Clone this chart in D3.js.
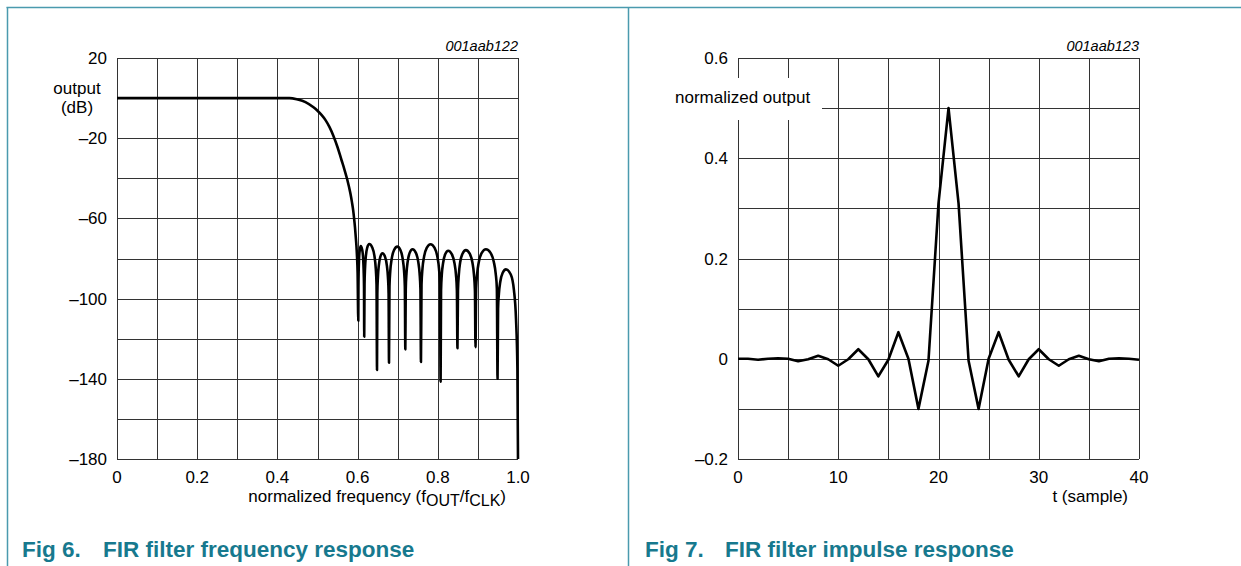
<!DOCTYPE html>
<html>
<head>
<meta charset="utf-8">
<script src="https://cdn.jsdelivr.net/npm/d3@7"></script>
<style>
    body { margin: 0; background: #fff; }
    svg { display: block; font-family: "Liberation Sans", Arial, sans-serif; }
</style>
</head>
<body>
<svg id="page" width="1241" height="566"></svg>
<script>
// ---- data ----
const freqGrid = [0, 0.1, 0.2, 0.3, 0.4, 0.5, 0.6, 0.7, 0.8, 0.9, 1.0];
const freqTicks = [0, 0.2, 0.4, 0.6, 0.8, 1.0];
const dbGrid = [20, 0, -20, -40, -60, -80, -100, -120, -140, -160, -180];
const dbTicks = [20, -20, -60, -100, -140, -180];

// [normalized frequency, output dB]
const freqResponse = [
    [0, 0], [0.43, 0], [0.45, -0.7], [0.47, -2], [0.49, -4.6], [0.5, -6.3],
    [0.51, -8.4], [0.52, -11], [0.53, -14.5], [0.54, -19], [0.55, -24.5],
    [0.56, -31], [0.567, -35.5], [0.574, -40.5], [0.582, -47.5], [0.586, -52],
    [0.589, -56], [0.591, -59.5], [0.5935, -64.5], [0.5955, -69.5], [0.597, -73.5],
    [0.5985, -79], [0.6, -87], [0.6017, -111],
    [0.6021, -94], [0.6027, -86], [0.6037, -80], [0.6055, -75.6], [0.608, -73.8],
    [0.6114, -75.6], [0.6138, -80], [0.6151, -86], [0.616, -94], [0.6165, -119],
    [0.6173, -93], [0.6185, -85], [0.6205, -79], [0.624, -74.6], [0.629, -72.8],
    [0.6368, -74.6], [0.6422, -79], [0.6453, -85], [0.6472, -93], [0.6484, -135.6],
    [0.6492, -97.4], [0.6506, -89.4], [0.6528, -83.7], [0.6566, -79.2], [0.662, -77.4],
    [0.6685, -79.2], [0.6731, -83.7], [0.6757, -89.4], [0.6773, -97.4], [0.6783, -132],
    [0.6795, -94], [0.6816, -86], [0.6849, -80.4], [0.6907, -75.9], [0.699, -74.1],
    [0.707, -75.9], [0.7126, -80.4], [0.7158, -86], [0.7178, -94], [0.719, -125.3],
    [0.7201, -95.4], [0.7219, -87.4], [0.7248, -81.7], [0.7298, -77.2], [0.737, -75.4],
    [0.7454, -77.2], [0.7513, -81.7], [0.7546, -87.4], [0.7567, -95.4], [0.758, -131.6],
    [0.7594, -93], [0.7618, -85], [0.7657, -79.2], [0.7724, -74.7], [0.782, -72.9],
    [0.792, -74.7], [0.799, -79.2], [0.803, -85], [0.8055, -93], [0.807, -141.4],
    [0.8081, -96], [0.81, -88], [0.8131, -82.4], [0.8184, -77.9], [0.826, -76.1],
    [0.8352, -77.9], [0.8416, -82.4], [0.8453, -88], [0.8476, -96], [0.849, -124.8],
    [0.8503, -96], [0.8524, -88], [0.8557, -82], [0.8616, -77.6], [0.87, -75.8],
    [0.8796, -77.6], [0.8863, -82], [0.8902, -88], [0.8926, -96], [0.894, -124.3],
    [0.8956, -95], [0.8982, -87.5], [0.9023, -81.7], [0.9096, -77.2], [0.92, -75.4],
    [0.9316, -77.2], [0.9397, -81.7], [0.9444, -87.5], [0.9473, -95], [0.949, -140],
    [0.9503, -105], [0.9524, -97.5], [0.9557, -91.7], [0.9616, -87.2], [0.97, -85.4],
    [0.982, -88], [0.99, -96], [0.995, -110], [0.9985, -135], [1.0, -180]
];

const sampleGrid = [0, 5, 10, 15, 20, 25, 30, 35, 40];
const sampleTicks = [0, 10, 20, 30, 40];
const outGrid = [0.6, 0.5, 0.4, 0.3, 0.2, 0.1, 0, -0.1, -0.2];
const outTicks = [0.6, 0.4, 0.2, 0, -0.2];

// normalized output for t = 0 .. 40
const impulse = [
    0, 0, -0.002, 0, 0.001, 0, -0.005, -0.001, 0.006, -0.001,
    -0.014, -0.001, 0.019, -0.001, -0.035, -0.002, 0.053, 0, -0.1, -0.004,
    0.31, 0.5, 0.31, -0.004, -0.1, 0, 0.053, -0.002, -0.035, -0.001,
    0.019, -0.001, -0.014, -0.001, 0.006, -0.001, -0.005, 0, 0.001, 0,
    -0.002
];

const cfg = {
    font: 17,
    gridColor: "#333",
    frameColor: "#4a9aae",
    titleColor: "#17798e",
    lineWidth: 2.6,
};

const svg = d3.select("#page");

function dash(v) {
    // datasheet style minus sign
    return String(v).replace("-", "\u2013");
}

function drawFrame() {
    var g = svg.append("g")
        .attr("stroke", cfg.frameColor)
        .attr("stroke-width", 1.5)
        .attr("fill", "none");
    g.append("line").attr("x1", 6.5).attr("x2", 1241).attr("y1", 7.5).attr("y2", 7.5);
    g.append("line").attr("x1", 7.5).attr("x2", 7.5).attr("y1", 7).attr("y2", 566);
    g.append("line").attr("x1", 628.5).attr("x2", 628.5).attr("y1", 7).attr("y2", 566);
}

function drawGrid(g, x, y, xs, ys) {
    var [x0, x1] = x.range();
    var [y0, y1] = y.range();
    g.append("g")
        .selectAll("line")
        .data(xs)
        .join("line")
        .attr("x1", d => Math.round(x(d)) + 0.5)
        .attr("x2", d => Math.round(x(d)) + 0.5)
        .attr("y1", y1)
        .attr("y2", y0)
        .attr("stroke", cfg.gridColor)
        .attr("stroke-width", 1);
    g.append("g")
        .selectAll("line")
        .data(ys)
        .join("line")
        .attr("x1", x0)
        .attr("x2", x1)
        .attr("y1", d => Math.round(y(d)) + 0.5)
        .attr("y2", d => Math.round(y(d)) + 0.5)
        .attr("stroke", cfg.gridColor)
        .attr("stroke-width", 1);
}

function drawTickLabels(g, x, y, xt, yt, xfmt, yfmt) {
    var [x0] = x.range();
    var [y0] = y.range();
    g.append("g")
        .selectAll("text")
        .data(yt)
        .join("text")
        .attr("x", x0 - 10)
        .attr("y", d => y(d) + 6)
        .attr("text-anchor", "end")
        .attr("font-size", cfg.font)
        .text(yfmt);
    g.append("g")
        .selectAll("text")
        .data(xt)
        .join("text")
        .attr("x", d => x(d))
        .attr("y", y0 + 24)
        .attr("text-anchor", "middle")
        .attr("font-size", cfg.font)
        .text(xfmt);
}

function drawFreqChart() {
    var x = d3.scaleLinear().domain([0, 1]).range([117, 518]);
    var y = d3.scaleLinear().domain([-180, 20]).range([459, 58]);
    var g = svg.append("g");

    drawGrid(g, x, y, freqGrid, dbGrid);
    drawTickLabels(g, x, y, freqTicks, dbTicks,
        d => (d === 0 ? "0" : d.toFixed(1)),
        d => dash(d));

    // y title
    g.append("text").attr("x", 77).attr("y", 94)
        .attr("text-anchor", "middle").attr("font-size", cfg.font).text("output");
    g.append("text").attr("x", 77).attr("y", 113)
        .attr("text-anchor", "middle").attr("font-size", cfg.font).text("(dB)");

    // x title with subscripts
    var t = g.append("text").attr("x", 506).attr("y", 502)
        .attr("text-anchor", "end").attr("font-size", cfg.font);
    t.append("tspan").text("normalized frequency (f");
    t.append("tspan").attr("dy", 4).attr("font-size", 16).text("OUT");
    t.append("tspan").attr("dy", -4).text("/f");
    t.append("tspan").attr("dy", 4).attr("font-size", 16).text("CLK");
    t.append("tspan").attr("dy", -4).text(")");

    g.append("text").attr("x", 518).attr("y", 51)
        .attr("text-anchor", "end").attr("font-size", 14.5)
        .attr("font-style", "italic").text("001aab122");

    var line = d3.line()
        .x(d => x(d[0]))
        .y(d => y(d[1]))
        .curve(d3.curveMonotoneX);

    g.append("path")
        .datum(freqResponse)
        .attr("d", line)
        .attr("fill", "none")
        .attr("stroke", "#000")
        .attr("stroke-width", cfg.lineWidth)
        .attr("stroke-linejoin", "round");
}

function drawImpulseChart() {
    var x = d3.scaleLinear().domain([0, 40]).range([738, 1139]);
    var y = d3.scaleLinear().domain([-0.2, 0.6]).range([459, 58]);
    var g = svg.append("g");

    drawGrid(g, x, y, sampleGrid, outGrid);
    drawTickLabels(g, x, y, sampleTicks, outTicks,
        d => String(d),
        d => dash(d));

    // label box knocks out the grid behind it
    g.append("rect").attr("x", 664).attr("y", 78)
        .attr("width", 158).attr("height", 42).attr("fill", "#fff");
    g.append("text").attr("x", 675).attr("y", 103)
        .attr("font-size", cfg.font).text("normalized output");

    g.append("text").attr("x", 1128).attr("y", 502)
        .attr("text-anchor", "end").attr("font-size", cfg.font).text("t (sample)");

    g.append("text").attr("x", 1139).attr("y", 51)
        .attr("text-anchor", "end").attr("font-size", 14.5)
        .attr("font-style", "italic").text("001aab123");

    var line = d3.line()
        .x((d, i) => x(i))
        .y(d => y(d));

    g.append("path")
        .datum(impulse)
        .attr("d", line)
        .attr("fill", "none")
        .attr("stroke", "#000")
        .attr("stroke-width", cfg.lineWidth)
        .attr("stroke-linejoin", "round");
}

function drawCaptions() {
    var caps = [
        { x: 22, x2: 103, num: "Fig 6.", text: "FIR filter frequency response" },
        { x: 645, x2: 725, num: "Fig 7.", text: "FIR filter impulse response" },
    ];
    caps.forEach(c => {
        svg.append("text").attr("x", c.x).attr("y", 557)
            .attr("font-size", 22.5).attr("font-weight", "bold")
            .attr("fill", cfg.titleColor).text(c.num);
        svg.append("text").attr("x", c.x2).attr("y", 557)
            .attr("font-size", 22.5).attr("font-weight", "bold")
            .attr("fill", cfg.titleColor).text(c.text);
    });
}

drawFrame();
drawFreqChart();
drawImpulseChart();
drawCaptions();
</script>
</body>
</html>
